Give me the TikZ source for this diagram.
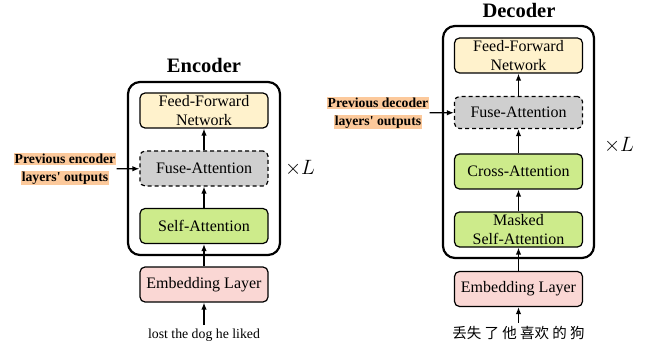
\documentclass[tikz,border=0pt]{standalone}
\usepackage{fontspec, xcolor}
\setmainfont{Liberation Serif}
\newfontfamily\cjkfont{Noto Sans CJK SC}
\usetikzlibrary{positioning, arrows.meta}
\definecolor{ffnyellow}{HTML}{FFF2CC}
\definecolor{attgreen}{HTML}{CDEB8B}
\definecolor{fusegray}{HTML}{CFCFCF}
\definecolor{embpink}{HTML}{FAD7D4}
\definecolor{prevorange}{HTML}{FCC99B}
\tikzset{>={Latex[length=7pt, width=5.5pt]},
block/.style={draw, line width=1.2pt, rounded corners=5pt, minimum width=128pt, minimum height=35pt, inner sep=0pt, align=center, font=\fontsize{16}{19}\selectfont},
ffn/.style={block, fill=ffnyellow},
fuse/.style={block, fill=fusegray, dashed, dash pattern=on 4pt off 3pt},
att/.style={block, fill=attgreen},
emb/.style={block, fill=embpink},
layerbox/.style={line width=2.2pt, rounded corners=12pt},
title/.style={font=\bfseries\fontsize{20.5}{24}\selectfont},
prev/.style={inner sep=0pt, align=center, font=\bfseries\fontsize{13.7}{18}\selectfont},
times/.style={font=\fontsize{21}{24}\selectfont},
flow/.style={->, line width=1.3pt},
}
\newcommand{\hl}[1]{{\setlength{\fboxsep}{1.2pt}\colorbox{prevorange}{#1}}}

\begin{document}
\begin{tikzpicture}[x=1pt, y=-1pt]
    \useasboundingbox (0,0) rectangle (659,350);
    % encoder
    \draw[layerbox] (128,82) rectangle (280,255);
    \node[title] (enctitle) at (204,65) {Encoder};
    \node[ffn] (encffn) at (204,110.5) {Feed-Forward\\Network};
    \node[fuse] (encfuse) at (204,168.5) {Fuse-Attention};
    \node[att] (encself) at (204,226) {Self-Attention};
    \node[emb] (encemb) at (204,284.5) {Embedding Layer};
    \node[font=\fontsize{13.8}{16}\selectfont] (encin) at (204,335) {lost the dog he liked};
    \node[prev] (encprev) at (65,169) {\hl{Previous encoder}\\\hl{layers\textquotesingle\ outputs}};
    \node[times] (enctimes) at (300,168) {$\times L$};
    % decoder
    \draw[layerbox] (443,26) rectangle (594,258);
    \node[title] (dectitle) at (519,10) {Decoder};
    \node[ffn] (decffn) at (518.5,55.5) {Feed-Forward\\Network};
    \node[fuse, minimum height=32pt] (decfuse) at (518.5,112.5) {Fuse-Attention};
    \node[att] (deccross) at (518.5,171.5) {Cross-Attention};
    \node[att] (decself) at (518.5,229.5) {Masked\\Self-Attention};
    \node[emb] (decemb) at (518.5,289) {Embedding Layer};
    \node[font=\cjkfont\fontsize{14.5}{16}\selectfont] (decin) at (518.5,333) {丢失 了 他 喜欢 的 狗};
    \node[prev] (decprev) at (378,113) {\hl{Previous decoder}\\\hl{layers\textquotesingle\ outputs}};
    \node[times] (dectimes) at (619,145) {$\times L$};
    \draw[flow]
        (encin) edge (encemb)
        (encemb) edge (encself)
        (encself) edge (encfuse)
        (encfuse) edge (encffn)
        (encprev) edge (encfuse)
        (decin) edge (decemb)
        (decemb) edge (decself)
        (decself) edge (deccross)
        (deccross) edge (decfuse)
        (decfuse) edge (decffn)
        (decprev) edge (decfuse)
    ;
\end{tikzpicture}
\end{document}
